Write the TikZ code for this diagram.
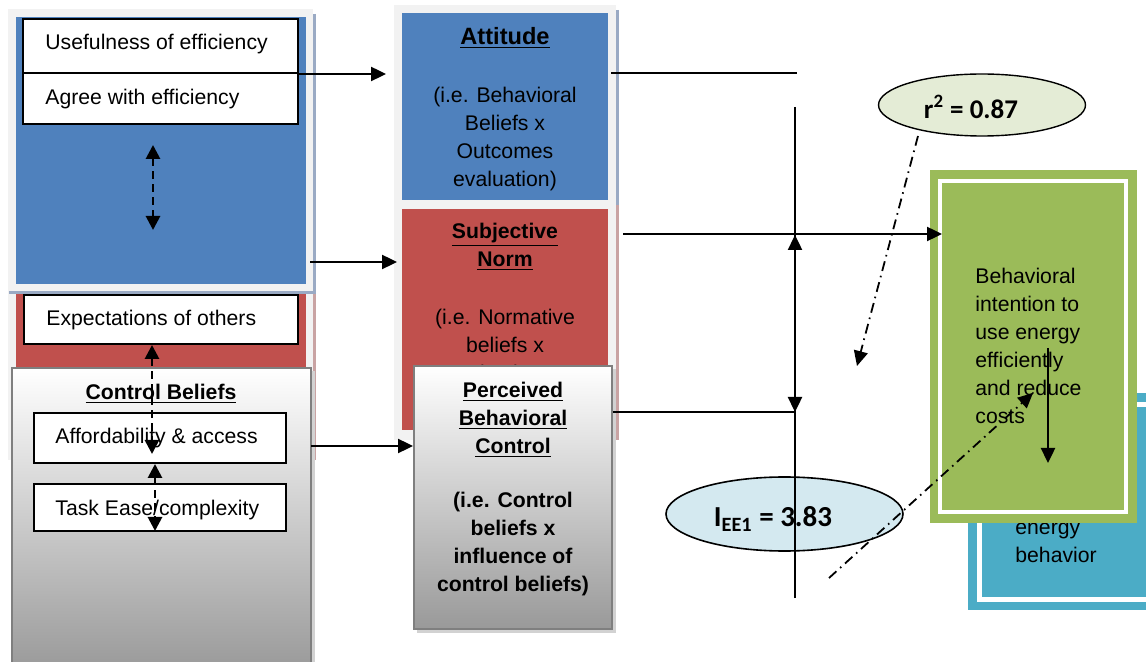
\documentclass[tikz,border=0pt]{standalone}
\usepackage{fontspec}
\setmainfont{Liberation Sans}
\newfontfamily\calib{Carlito}
\usetikzlibrary{arrows.meta,fit,shapes.geometric}
\definecolor{tpblue}{HTML}{4F81BD}
\definecolor{tpred}{HTML}{C0504D}
\definecolor{tpgreen}{HTML}{9BBB59}
\definecolor{tpteal}{HTML}{4BACC6}
\definecolor{framegray}{HTML}{F2F2F2}
\definecolor{shadegray}{HTML}{999999}
\definecolor{pborder}{HTML}{7F7F7F}
\definecolor{shblue}{HTML}{9AAAC4}
\definecolor{shred}{HTML}{C9A3A3}
\definecolor{rfill}{HTML}{E4ECD6}
\definecolor{ifill}{HTML}{D4E9F0}
\begin{document}
\begin{tikzpicture}[x=0.5pt,y=-0.5pt,
  txt/.style={font=\fontsize{10.6}{14}\selectfont, inner sep=0, text=black},
  btxt/.style={font=\fontsize{10.6}{14}\selectfont\bfseries, inner sep=0, text=black},
  wbox/.style={draw=black, line width=1pt, fill=white, inner sep=0},
  panel/.style={inner sep=0, draw=pborder, line width=0.9pt, top color=white, bottom color=shadegray},
  conn/.style={line width=1.2pt, -{Triangle[length=7.5pt,width=7pt]}},
  thinline/.style={line width=0.85pt},
  dbl/.style={line width=1.4pt, dash pattern=on 4pt off 2.5pt, {Triangle[length=7pt,width=7pt]}-{Triangle[length=7pt,width=7pt]}},
  dashdot/.style={line width=0.9pt, dash pattern=on 5pt off 2.5pt on 0.8pt off 2.5pt, -{Triangle[length=7.5pt,width=7pt]}},
]
\useasboundingbox (0,0) rectangle (1146,662);

% ---------- left red panel ----------
\fill[framegray] (8,290) rectangle (313,460);
\draw[line width=1.5pt, shred] (314.5,292) -- (314.5,460);
\node[fit={(16,292)(306,456)}, inner sep=0, fill=tpred] (lred) {};
% ---------- left blue panel ----------
\fill[framegray] (8,9) rectangle (313,292);
\draw[line width=1.5pt, shblue] (314.5,14) -- (314.5,293) -- (9,293);
\node[fit={(16,17)(306,284)}, inner sep=0, fill=tpblue] (lblue) {};

\node[wbox, fit={(23,19)(298,73)}] (useful) {};
\node[wbox, fit={(23,73)(298,124)}] (agree) {};
\node[txt, anchor=west] (tuse) at (45,44) {Usefulness of efficiency};
\node[txt, anchor=west] (tagr) at (45,99) {Agree with efficiency};
\coordinate (d1a) at (153,145);
\coordinate (d1b) at (153,230);
\draw[dbl] (d1a) -- (d1b);

\node[wbox, fit={(24,295)(298,344)}] (expect) {};
\node[txt, anchor=west] (texp) at (46,320) {Expectations of others};

% ---------- control beliefs panel ----------
\fill[gray!35] (15,371) rectangle (314.5,672);
\node[panel, fit={(12,368)(311,672)}] (cb) {};
\node[btxt] (cbt) at (161,394) {\underline{Control Beliefs}};
\node[wbox, fit={(34,413)(286,463)}] (afford) {};
\node[txt, anchor=west] (taff) at (55,438) {Affordability \& access};
\node[wbox, fit={(34,484)(286,531)}] (task) {};
\node[txt, anchor=west] (ttask) at (55,510) {Task Ease/complexity};
\coordinate (d2a) at (152,345);
\coordinate (d2b) at (152,454);
\coordinate (d3a) at (155,464);
\coordinate (d3b) at (155,531);
\draw[dbl] (d2a) -- (d2b);
\draw[dbl] (d3a) -- (d3b);

% ---------- centre panels ----------
\fill[framegray] (394,5) rectangle (616,440);
\draw[line width=1.2pt, shblue] (617.5,10) -- (617.5,205);
\draw[line width=1.2pt, shred] (617.5,205) -- (617.5,440);
\node[fit={(402,13)(608,200)}, inner sep=0, fill=tpblue] (att) {};
\node[fit={(402,209)(608,430)}, inner sep=0, fill=tpred] (sn) {};
\node[font=\fontsize{11.8}{14}\selectfont\bfseries, inner sep=0] (attt) at (505,38) {\underline{Attitude}};
\node[txt, align=center] (attb) at (505,139) {(i.e. Behavioral\\Beliefs x\\Outcomes\\evaluation)};
\node[btxt, align=center] (snt) at (505,247) {\underline{Subjective}\\\underline{Norm}};
\node[txt, align=center] (snb) at (505,345) {(i.e. Normative\\beliefs x\\Motivation to};

\fill[gray!35] (417,369.5) rectangle (615.5,633);
\node[panel, fit={(414,366)(612,629)}] (pbc) {};
\node[btxt, align=center] (pbct) at (513,420) {\underline{Perceived}\\\underline{Behavioral}\\\underline{Control}};
\node[btxt, align=center] (pbcb) at (513,544) {(i.e. Control\\beliefs x\\influence of\\control beliefs)};

% ---------- left connectors ----------
\coordinate (agout) at (298,74);
\coordinate (attin) at (386,74);
\draw[conn] (agout) -- (attin);
\coordinate (lbout) at (310,262);
\coordinate (snin) at (397,262);
\draw[conn] (lbout) -- (snin);
\coordinate (cbout) at (311,446);
\coordinate (pbcin) at (413,446);
\draw[conn] (cbout) -- (pbcin);

% ---------- right boxes ----------
\node[fit={(968,393)(1152,610)}, inner sep=0, fill=tpteal] (beh) {};
\draw[white, line width=2.5pt] (979.5,404.5) rectangle (1170,599.5);
\node[txt, anchor=west, align=left] (beht) at (1015,543) {energy\\behavior};

\node[fit={(930,170)(1137,523)}, inner sep=0, fill=tpgreen] (bi) {};
\draw[white, line width=2pt] (940,181) rectangle (1126,512.5);
\node[txt, anchor=west, align=left] (bit) at (975,346) {Behavioral\\intention to\\use energy\\efficiently\\and reduce\\costs};
\coordinate (gi1) at (1048,348);
\coordinate (gi2) at (1048,463);
\draw[conn] (gi1) -- (gi2);

% ---------- ellipses ----------
\node[ellipse, draw=black, line width=0.7pt, fill=rfill, minimum width=103.5pt, minimum height=31pt, inner sep=0] (r2) at (982,105) {};
\node[font=\calib\bfseries\fontsize{13.5}{16}\selectfont, inner sep=0] (r2t) at (971,107) {r\textsuperscript{2} = 0.87};
\node[ellipse, draw=black, line width=0.8pt, fill=ifill, minimum width=118.5pt, minimum height=37pt, inner sep=0] (iee) at (784.5,514) {};
\node[font=\calib\bfseries\fontsize{14.5}{16}\selectfont, inner sep=0] (ieet) at (773,519) {I\textsubscript{EE1} = 3.83};

% ---------- central lines ----------
\coordinate (h1a) at (611,73);
\coordinate (h1b) at (797,73);
\draw[thinline] (h1a) -- (h1b);
\coordinate (snout) at (623,234);
\coordinate (biin) at (942,234);
\draw[conn] (snout) -- (biin);
\coordinate (vtop) at (795,107);
\coordinate (vbot) at (795,598);
\coordinate (vpbc) at (795,412);
\coordinate (vsn) at (795,235);
\draw[thinline] (pbc.east |- vpbc) -- (vpbc);
\draw[conn] (vtop) -- (vpbc);
\draw[conn] (vbot) -- (vsn);

% ---------- dash-dot lines ----------
\coordinate (r2s) at (918,136);
\coordinate (r2e) at (857,366);
\draw[dashdot] (r2s) -- (r2e);
\coordinate (ies) at (829,578);
\coordinate (iee2) at (1033,393);
\draw[dashdot] (ies) -- (iee2);
\end{tikzpicture}
\end{document}
